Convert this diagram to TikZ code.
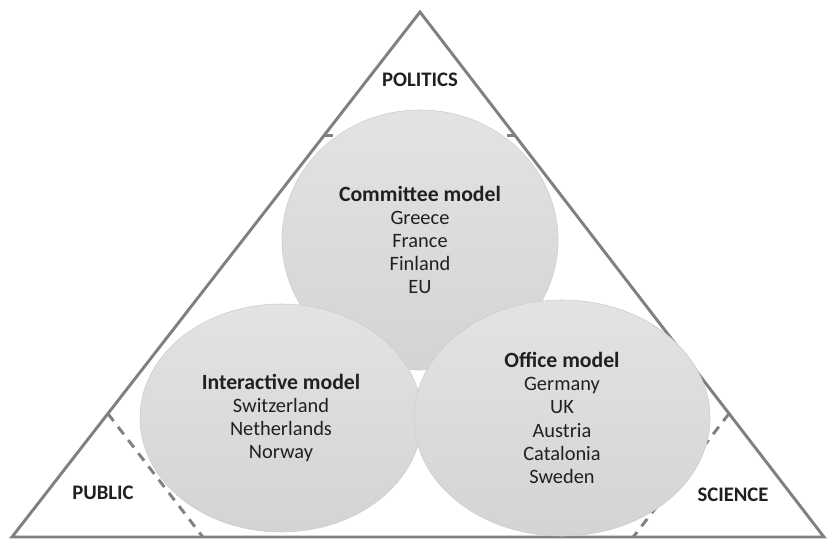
\documentclass[tikz,border=0pt]{standalone}
\usepackage{fontspec}
\setmainfont{Carlito}
\usetikzlibrary{shapes.geometric, calc}
\definecolor{edgegray}{RGB}{128,128,128}
\definecolor{inkgray}{RGB}{35,31,32}

\begin{document}
\begin{tikzpicture}[
  x=0.75pt, y=-0.75pt,
  side/.style={draw=edgegray, line width=2.2pt, line join=miter},
  split/.style={draw=edgegray, line width=2.2pt, dash pattern=on 7pt off 5.5pt},
  blob/.style={ellipse, draw=black!20, line width=0.4pt, top color=black!11,
               bottom color=black!17, inner sep=0pt, align=center, text=inkgray,
               font=\fontsize{15.3}{17.4}\selectfont},
  corner/.style={text=inkgray, font=\fontsize{15.5}{17}\selectfont\bfseries},
]
\useasboundingbox (0,0) rectangle (828,541);

% --- triangle ---
\coordinate (apex) at (420,12);
\coordinate (bl) at (12,537);
\coordinate (br) at (824,537);
\draw[side] (apex) -- (bl) -- (br) -- cycle;

% --- corner regions ---
\coordinate (tl) at ($(apex)!0.235!(bl)$);
\coordinate (tr) at ($(apex)!0.235!(br)$);
\coordinate (lu) at ($(bl)!0.235!(apex)$);
\coordinate (lb) at ($(bl)!0.235!(br)$);
\coordinate (ru) at ($(br)!0.235!(apex)$);
\coordinate (rb) at ($(br)!0.235!(bl)$);
\draw[split] (tl) -- (tr);
\draw[split] (lu) -- (lb);
\draw[split] (ru) -- (rb);

\node[corner] (politics) at (420,80) {POLITICS};
\node[corner] (public) at (103,493) {PUBLIC};
\node[corner] (science) at (733,495) {SCIENCE};

% --- models ---
\node[blob, minimum width=207pt, minimum height=195pt] (committee) at (420,240)
  {{\fontsize{16.3}{17.4}\selectfont\bfseries Committee model}\\Greece\\France\\Finland\\EU};
\node[blob, minimum width=211.5pt, minimum height=171pt] (interactive) at (281,418)
  {{\fontsize{16.3}{17.4}\selectfont\bfseries Interactive model}\\Switzerland\\Netherlands\\Norway};
\node[blob, minimum width=222pt, minimum height=177pt] (office) at (562,418)
  {{\fontsize{16.3}{17.4}\selectfont\bfseries Office model}\\Germany\\UK\\Austria\\Catalonia\\Sweden};
\end{tikzpicture}
\end{document}
